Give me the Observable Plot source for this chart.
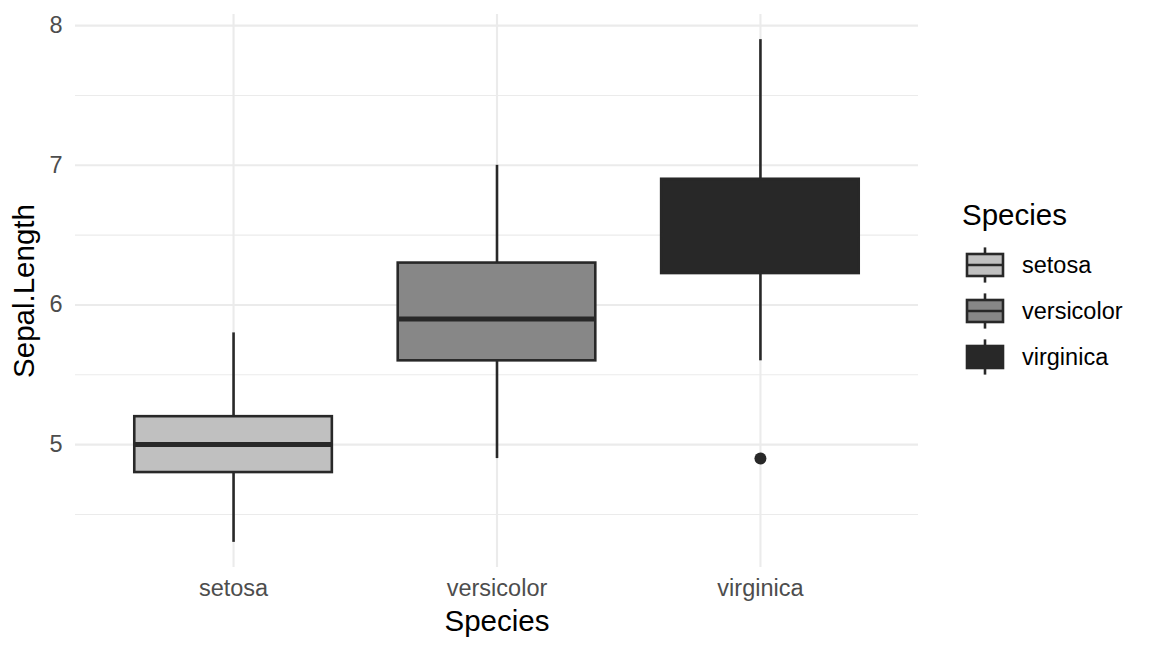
<!DOCTYPE html>
<html>
<head>
<meta charset="utf-8">
<script src="https://cdn.jsdelivr.net/npm/d3@7"></script>
<script src="https://cdn.jsdelivr.net/npm/@observablehq/plot@0.6"></script>
<style>
  html, body { margin: 0; padding: 0; background: white; }
  #wrap { position: relative; width: 1152px; height: 652px; font-family: "Liberation Sans", Arial, sans-serif; }
  #legend { position: absolute; left: 0; top: 0; }
</style>
</head>
<body>
<div id="wrap"></div>
<script>
// ---- data (iris Sepal.Length boxplot statistics) ----
const species = ["setosa", "versicolor", "virginica"];
const lowerWhisker = [4.3, 4.9, 5.6];
const q1 = [4.8, 5.6, 6.225];
const median = [5.0, 5.9, 6.5];
const q3 = [5.2, 6.3, 6.9];
const upperWhisker = [5.8, 7.0, 7.9];
const outlierSpecies = ["virginica"];
const outlierValues = [4.9];
const yMajorTicks = [5, 6, 7, 8];
const yMinorTicks = [4.5, 5.5, 6.5, 7.5];
const fillColors = ["#C0C0C0", "#878787", "#282828"];

// ---- derived tables ----
const boxes = species.map((s, i) => ({
  species: s, idx: i + 1,
  lo: lowerWhisker[i], q1: q1[i], med: median[i], q3: q3[i], hi: upperWhisker[i]
}));
const outliers = outlierSpecies.map((s, i) => ({ species: s, idx: species.indexOf(s) + 1, value: outlierValues[i] }));
const halfWidth = 0.375;
const lineColor = "#282828";
const gridColor = "#EBEBEB";
const tickFont = 23.5, titleFont = 29.5;
const lw = 2.6;

const chart = Plot.plot({
  width: 1152,
  height: 652,
  marginLeft: 75,
  marginRight: 234,
  marginTop: 14,
  marginBottom: 85,
  style: { fontFamily: "'Liberation Sans', Arial, sans-serif", background: "white", color: "#4D4D4D" },
  x: { type: "linear", domain: [0.4, 3.6], axis: null },
  y: { domain: [4.12, 8.08], axis: null },
  color: { domain: species, range: fillColors },
  marks: [
    Plot.ruleY(yMinorTicks, { stroke: gridColor, strokeWidth: 1.1 }),
    Plot.ruleY(yMajorTicks, { stroke: gridColor, strokeWidth: 2.1 }),
    Plot.ruleX(boxes, { x: "idx", stroke: gridColor, strokeWidth: 2.1 }),
    Plot.axisY(yMajorTicks, { tickSize: 0, tickPadding: 13, fontSize: tickFont, fill: "#4D4D4D", label: null,
      tickFormat: d => String(d) }),
    Plot.axisX(boxes.map(d => d.idx), { tickSize: 0, tickPadding: 12, fontSize: tickFont, fill: "#4D4D4D", label: null,
      tickFormat: i => species[i - 1] }),
    // whiskers
    Plot.ruleX(boxes, { x: "idx", y1: "lo", y2: "q1", stroke: lineColor, strokeWidth: lw }),
    Plot.ruleX(boxes, { x: "idx", y1: "q3", y2: "hi", stroke: lineColor, strokeWidth: lw }),
    // boxes
    Plot.rect(boxes, { x1: d => d.idx - halfWidth, x2: d => d.idx + halfWidth, y1: "q1", y2: "q3",
      fill: "species", stroke: lineColor, strokeWidth: lw }),
    // medians
    Plot.ruleY(boxes, { y: "med", x1: d => d.idx - halfWidth, x2: d => d.idx + halfWidth,
      stroke: lineColor, strokeWidth: 5 }),
    // outliers
    Plot.dot(outliers, { x: "idx", y: "value", r: 6, fill: lineColor, stroke: null }),
    // axis titles
    Plot.text(["Species"], { frameAnchor: "bottom", dy: 54, fontSize: titleFont, fill: "black", lineAnchor: "middle" }),
    Plot.text(["Sepal.Length"], { frameAnchor: "left", dx: -51, rotate: -90, fontSize: titleFont, fill: "black",
      lineAnchor: "middle", textAnchor: "middle" })
  ]
});
document.getElementById("wrap").appendChild(chart);

// ---- legend ----
const legend = d3.select("#wrap").append("svg")
  .attr("id", "legend").attr("width", 1152).attr("height", 652)
  .style("font-family", "'Liberation Sans', Arial, sans-serif");
legend.append("text").attr("x", 962).attr("y", 225).attr("font-size", titleFont).attr("fill", "black").text("Species");
const keyX = 967, keyW = 36, keyH = 44, keyTop0 = 243, keyStep = 46;
species.forEach((s, i) => {
  const top = keyTop0 + i * keyStep;
  const cx = keyX + keyW / 2;
  const g = legend.append("g");
  g.append("line").attr("x1", cx).attr("x2", cx).attr("y1", top + 0.1 * keyH).attr("y2", top + 0.9 * keyH)
    .attr("stroke", lineColor).attr("stroke-width", lw);
  g.append("rect").attr("x", keyX).attr("y", top + 0.25 * keyH).attr("width", keyW).attr("height", 0.5 * keyH)
    .attr("fill", fillColors[i]).attr("stroke", lineColor).attr("stroke-width", lw);
  g.append("line").attr("x1", keyX).attr("x2", keyX + keyW).attr("y1", top + keyH / 2).attr("y2", top + keyH / 2)
    .attr("stroke", lineColor).attr("stroke-width", lw);
  g.append("text").attr("x", 1022).attr("y", top + keyH / 2).attr("dy", "0.35em")
    .attr("font-size", tickFont).attr("fill", "black").text(s);
});
</script>
</body>
</html>
